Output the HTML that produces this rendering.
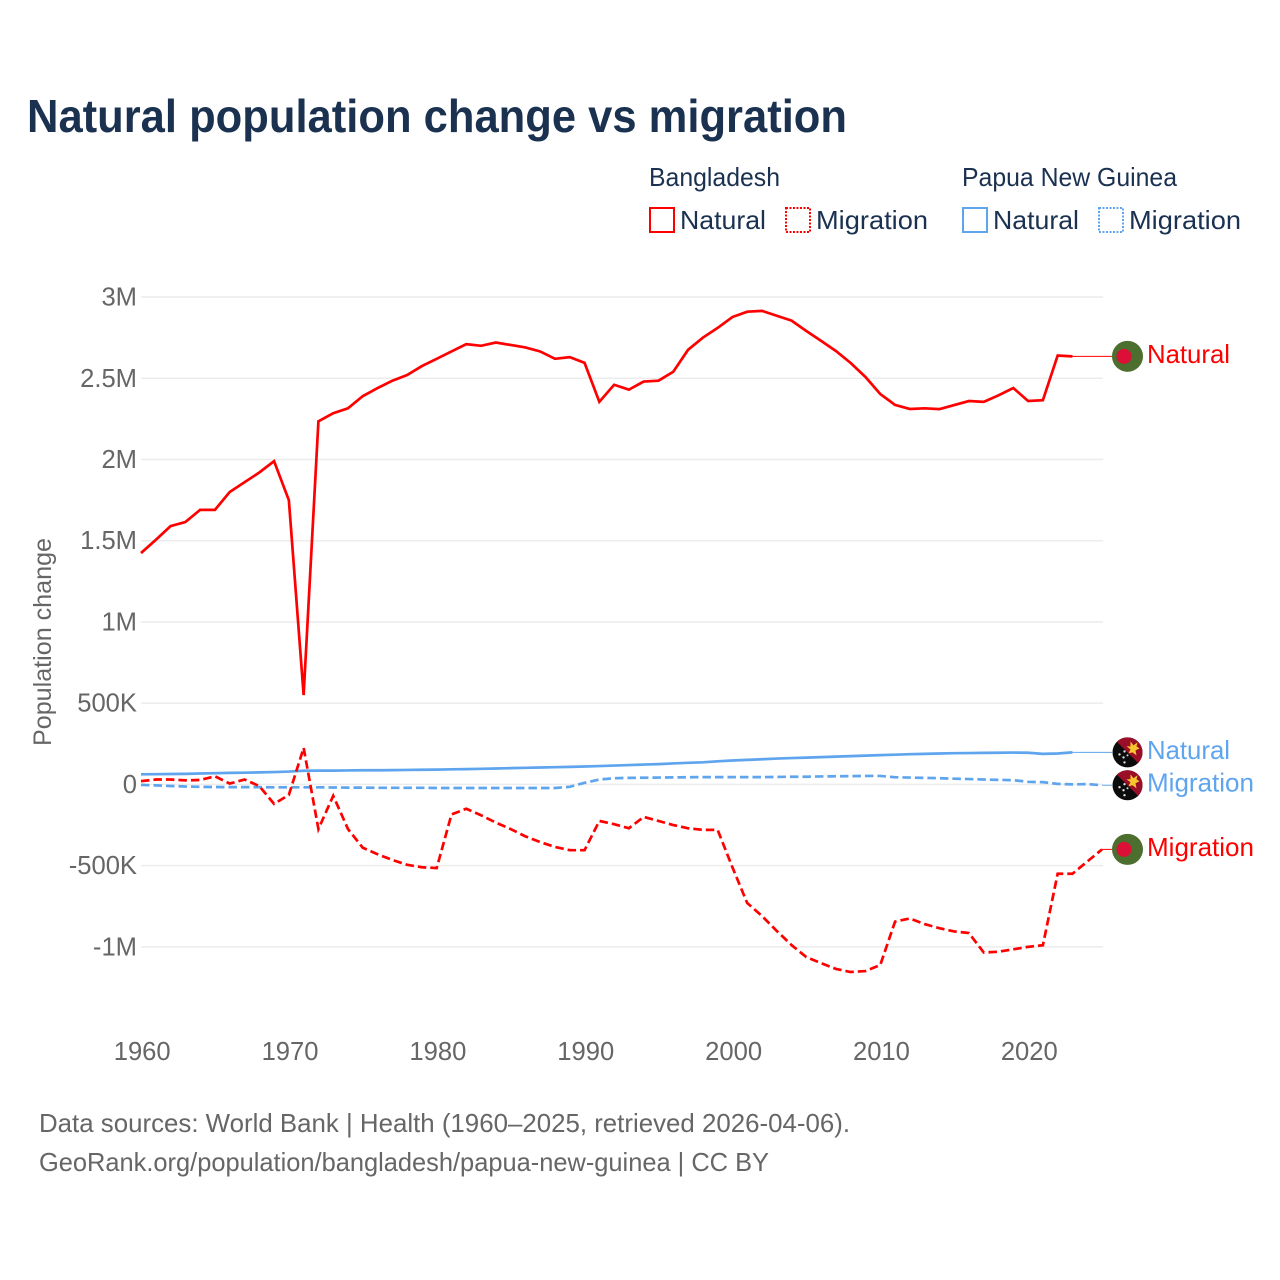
<!DOCTYPE html>
<html lang="en">
<head>
<meta charset="utf-8">
<title>Natural population change vs migration</title>
<style>
html,body{margin:0;padding:0;background:#fff}
svg{display:block}
text{font-family:"Liberation Sans",Arial,sans-serif}
</style>
</head>
<body>
<svg id="chart" xmlns="http://www.w3.org/2000/svg" width="1280" height="1280" viewBox="0 0 1280 1280">
<defs>
<clipPath id="flag-clip"><circle cx="0" cy="0" r="15"/></clipPath>
<g id="flag-bd">
<circle cx="0" cy="0" r="15.5" fill="#4c6e2e"/>
<circle cx="-3.5" cy="0" r="7.5" fill="#dc0f37"/>
</g>
<g id="flag-pg" clip-path="url(#flag-clip)">
<rect x="-16" y="-16" width="32" height="32" fill="#0c0c0c"/>
<polygon points="-16,-16 16,-16 16,16" fill="#9a0e28"/>
<polygon points="3,-11 6,-7 10,-10 9,-6 12,-4 8,-2 9,3 5,0 1,1 3,-3 -1,-6 3,-6" fill="#f7c52c"/>
<circle cx="-8" cy="2" r="1.2" fill="#ddd"/><circle cx="-3" cy="-1" r="1.2" fill="#ddd"/>
<circle cx="-4" cy="5" r="1.2" fill="#ddd"/><circle cx="0" cy="3" r="1" fill="#ddd"/><circle cx="-3" cy="10" r="1.2" fill="#ddd"/>
</g>
</defs>

<text x="27" y="132" font-size="46" font-weight="700" fill="#1a3150" textLength="820" lengthAdjust="spacingAndGlyphs">Natural population change vs migration</text>

<g font-size="26" fill="#1a3150">
<text x="649" y="186" textLength="131" lengthAdjust="spacingAndGlyphs">Bangladesh</text>
<text x="962" y="186" textLength="215" lengthAdjust="spacingAndGlyphs">Papua New Guinea</text>
<rect x="650" y="208" width="24" height="24" fill="none" stroke="#ff0000" stroke-width="2"/>
<text x="680" y="229" textLength="86" lengthAdjust="spacingAndGlyphs">Natural</text>
<rect x="786" y="208" width="24" height="24" fill="none" stroke="#ff0000" stroke-width="2" stroke-dasharray="2 1.5"/>
<text x="816" y="229" textLength="112" lengthAdjust="spacingAndGlyphs">Migration</text>
<rect x="963" y="208" width="24" height="24" fill="none" stroke="#5fa5ee" stroke-width="2"/>
<text x="993" y="229" textLength="86" lengthAdjust="spacingAndGlyphs">Natural</text>
<rect x="1099" y="208" width="24" height="24" fill="none" stroke="#5fa5ee" stroke-width="2" stroke-dasharray="2 1.5"/>
<text x="1129" y="229" textLength="112" lengthAdjust="spacingAndGlyphs">Migration</text>
</g>

<text transform="translate(51,746) rotate(-90)" font-size="25" fill="#666" textLength="208" lengthAdjust="spacingAndGlyphs">Population change</text>

<g id="grid"></g>
<g id="y-ticks"></g>
<g id="x-ticks"></g>
<g id="series"></g>
<g id="ends"></g>

<text x="39" y="1132" font-size="26" fill="#666" textLength="811" lengthAdjust="spacingAndGlyphs">Data sources: World Bank | Health (1960–2025, retrieved 2026-04-06).</text>
<text x="39" y="1171" font-size="26" fill="#666" textLength="730" lengthAdjust="spacingAndGlyphs">GeoRank.org/population/bangladesh/papua-new-guinea | CC BY</text>
</svg>

<script>
const firstYear = 1960;
const xTickYears = [1960, 1970, 1980, 1990, 2000, 2010, 2020];
const yTickValues = [3000, 2500, 2000, 1500, 1000, 500, 0, -500, -1000];
const yTickLabels = ['3M', '2.5M', '2M', '1.5M', '1M', '500K', '0', '-500K', '-1M'];

const bdNatural = [1424,1505,1590,1615,1690,1690,1800,1860,1920,1990,
 1750,550,2235,2285,2315,2390,2440,2485,2520,2575,
 2620,2665,2710,2700,2720,2705,2690,2665,2620,2630,
 2595,2355,2460,2430,2480,2485,2540,2675,2750,2810,
 2877,2910,2915,2885,2855,2791,2730,2668,2594,2508,
 2403,2336,2311,2315,2310,2335,2360,2355,2395,2440,
 2360,2365,2640,2635,null,null];
const bdMigration = [20,30,30,25,27,50,5,30,-10,-120,
 -65,225,-275,-70,-275,-390,-430,-465,-495,-510,
 -515,-185,-150,-190,-235,-275,-320,-355,-385,-405,
 -405,-225,-245,-270,-200,-225,-250,-270,-280,-280,
 -510,-730,-810,-902,-989,-1063,-1100,-1136,-1155,-1149,
 -1112,-845,-825,-860,-885,-905,-915,-1035,-1030,-1015,
 -1000,-990,-550,-550,-475,-400];
const pngNatural = [62,63,64,65,67,69,71,72,74,76,
 79,84,85,85,86,87,87,88,89,90,
 91,93,94,96,98,100,102,104,106,108,
 110,113,116,119,122,125,129,133,136,142,
 147,151,155,159,162,165,168,171,174,177,
 180,183,186,188,190,192,193,194,195,196,
 195,188,190,197,null,null];
const pngMigration = [-3,-6,-10,-13,-15,-16,-17,-17,-17,-18,
 -18,-18,-18,-19,-20,-20,-21,-21,-21,-21,
 -22,-22,-22,-22,-22,-22,-22,-22,-22,-15,
 10,30,38,40,41,42,43,44,45,45,
 45,45,45,46,47,47,49,50,51,52,
 52,44,42,40,38,35,33,30,28,26,
 16,14,3,0,2,-5];

const svgNS = 'http://www.w3.org/2000/svg';
function xScale(year) { return 141 + (year - firstYear) * 14.785; }
function yScale(value) { return 784.4 - value * 0.16245; }

const gridGroup = document.getElementById('grid');
const yTickGroup = document.getElementById('y-ticks');
const xTickGroup = document.getElementById('x-ticks');
const seriesGroup = document.getElementById('series');
const endsGroup = document.getElementById('ends');

yTickValues.forEach(function (v, i) {
  const line = document.createElementNS(svgNS, 'line');
  
  
  line.setAttribute('x1', xScale(firstYear));
  line.setAttribute('x2', xScale(2025) + 1);
  line.setAttribute('y1', yScale(v));
  line.setAttribute('y2', yScale(v));
  line.setAttribute('stroke', '#ececec');
  line.setAttribute('stroke-width', '1.5');
  gridGroup.appendChild(line);

  const label = document.createElementNS(svgNS, 'text');
  
  
  label.setAttribute('x', 137);
  label.setAttribute('y', yScale(v) + 8.5);
  label.setAttribute('text-anchor', 'end');
  label.setAttribute('font-size', '25.6');
  label.setAttribute('fill', '#666');
  label.textContent = yTickLabels[i];
  yTickGroup.appendChild(label);
});

xTickYears.forEach(function (year) {
  const label = document.createElementNS(svgNS, 'text');
  
  
  label.setAttribute('x', xScale(year) + 1.2);
  label.setAttribute('y', 1060);
  label.setAttribute('text-anchor', 'middle');
  label.setAttribute('font-size', '25.6');
  label.setAttribute('fill', '#666');
  label.textContent = String(year);
  xTickGroup.appendChild(label);
});

function buildPath(values) {
  let d = '';
  values.forEach(function (v, i) {
    if (v === null) return;
    d += (d ? 'L' : 'M') + xScale(firstYear + i).toFixed(2) + ' ' + yScale(v).toFixed(2);
  });
  return d;
}
function lastIndex(values) {
  let k = values.length - 1;
  while (values[k] === null) k--;
  return k;
}

const pngNaturalPath = document.createElementNS(svgNS, 'path');


pngNaturalPath.setAttribute('d', buildPath(pngNatural));
pngNaturalPath.setAttribute('fill', 'none');
pngNaturalPath.setAttribute('stroke', '#5fa5ee');
pngNaturalPath.setAttribute('stroke-width', '2.7');
seriesGroup.appendChild(pngNaturalPath);

const pngMigrationPath = document.createElementNS(svgNS, 'path');


pngMigrationPath.setAttribute('d', buildPath(pngMigration));
pngMigrationPath.setAttribute('fill', 'none');
pngMigrationPath.setAttribute('stroke', '#5fa5ee');
pngMigrationPath.setAttribute('stroke-width', '2.7');
pngMigrationPath.setAttribute('stroke-dasharray', '8.5 4');
seriesGroup.appendChild(pngMigrationPath);

const bdNaturalPath = document.createElementNS(svgNS, 'path');


bdNaturalPath.setAttribute('d', buildPath(bdNatural));
bdNaturalPath.setAttribute('fill', 'none');
bdNaturalPath.setAttribute('stroke', '#ff0000');
bdNaturalPath.setAttribute('stroke-width', '2.7');
seriesGroup.appendChild(bdNaturalPath);

const bdMigrationPath = document.createElementNS(svgNS, 'path');


bdMigrationPath.setAttribute('d', buildPath(bdMigration));
bdMigrationPath.setAttribute('fill', 'none');
bdMigrationPath.setAttribute('stroke', '#ff0000');
bdMigrationPath.setAttribute('stroke-width', '2.7');
bdMigrationPath.setAttribute('stroke-dasharray', '8.5 4');
seriesGroup.appendChild(bdMigrationPath);

function addEnd(values, color, flagId, text) {
  const k = lastIndex(values);
  const ex = xScale(firstYear + k);
  const ey = yScale(values[k]);

  const conn = document.createElementNS(svgNS, 'line');
  
  
  conn.setAttribute('x1', ex);
  conn.setAttribute('x2', 1112);
  conn.setAttribute('y1', ey);
  conn.setAttribute('y2', ey);
  conn.setAttribute('stroke', color);
  conn.setAttribute('stroke-width', '1');
  endsGroup.appendChild(conn);

  const flag = document.createElementNS(svgNS, 'use');
  
  
  flag.setAttribute('href', '#' + flagId);
  flag.setAttribute('x', 1127.5);
  flag.setAttribute('y', ey);
  endsGroup.appendChild(flag);

  const label = document.createElementNS(svgNS, 'text');
  
  
  label.setAttribute('x', 1147);
  label.setAttribute('y', ey + 6.5);
  label.setAttribute('font-size', '26');
  label.setAttribute('fill', color);
  label.setAttribute('textLength', text === 'Natural' ? 83 : 107);
  label.setAttribute('lengthAdjust', 'spacingAndGlyphs');
  label.textContent = text;
  endsGroup.appendChild(label);
}
addEnd(bdNatural, '#ff0000', 'flag-bd', 'Natural');
addEnd(pngNatural, '#5fa5ee', 'flag-pg', 'Natural');
addEnd(pngMigration, '#5fa5ee', 'flag-pg', 'Migration');
addEnd(bdMigration, '#ff0000', 'flag-bd', 'Migration');
</script>
</body>
</html>
